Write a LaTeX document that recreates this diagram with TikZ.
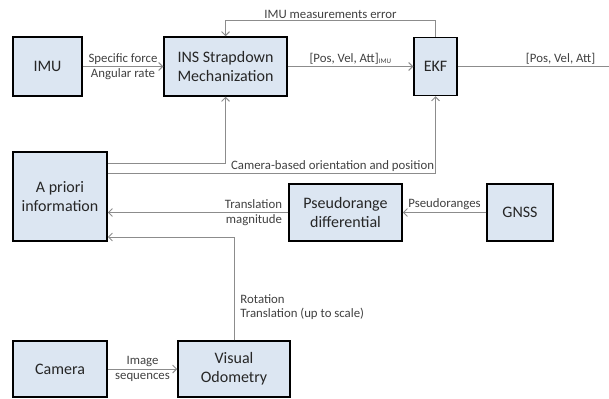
\documentclass[tikz,border=0pt]{standalone}
\usepackage{fontspec}
\setmainfont{Carlito}
\usepackage{tikz}
\usetikzlibrary{arrows.meta,%
                shapes,positioning}
\definecolor{boxfill}{HTML}{DCE6F2}
\definecolor{linegray}{HTML}{8C8C8C}
\definecolor{textgray}{HTML}{404040}

\begin{document}
\begin{tikzpicture}[x=1pt,y=-1pt,
  block/.style={draw=black, line width=1.5pt, fill=boxfill, align=center,
    inner sep=0pt, text=black!85, font=\fontsize{16}{19}\selectfont},
  link/.style={draw=linegray, line width=0.9pt},
  arr/.style={link, -{Straight Barb[length=4pt,width=8pt]}},
  lbl/.style={text=textgray, font=\fontsize{12.8}{14.5}\selectfont, inner sep=2pt}]
\useasboundingbox (0,0) rectangle (609,398);
% blocks
\node[block, minimum width=69pt, minimum height=59pt] (imu) at (47.5,66.5) {IMU};
\node[block, minimum width=123pt, minimum height=59pt] (ins) at (225.5,66.5) {INS Strapdown\\Mechanization};
\node[block, minimum width=43pt, minimum height=58pt] (ekf) at (435.5,66.5) {EKF};
\node[block, minimum width=94pt, minimum height=89pt] (prior) at (60,196.5) {A priori\\information};
\node[block, minimum width=113pt, minimum height=57pt] (pseudo) at (345.5,212.5) {Pseudorange\\differential};
\node[block, minimum width=66pt, minimum height=57pt] (gnss) at (520,212.5) {GNSS};
\node[block, minimum width=94pt, minimum height=56pt] (cam) at (60,369) {Camera};
\node[block, minimum width=112pt, minimum height=56pt] (vo) at (234,369) {Visual\\Odometry};
\coordinate (out) at (609,66.5);
% connectors
\draw[arr] (imu) -- node[lbl, align=center] {Specific force\\Angular rate} (ins);
\draw[arr] (ins) -- node[lbl, above] {[Pos, Vel, Att]\textsubscript{\fontsize{7}{8}\selectfont IMU}} (ekf);
\draw[link] (ekf) -- node[lbl, above, pos=0.68] {[Pos, Vel, Att]} (out);
\draw[arr] (ekf.north) -- ++(0,-16) -| node[lbl, above, pos=0.25] {IMU measurements error} (ins.north);
\draw[arr] ([yshift=33.5pt]prior.east) -| (ins.south);
\draw[arr] ([yshift=23.5pt]prior.east) -| node[lbl, above left, pos=0.5, inner sep=1pt] {Camera-based orientation and position} (ekf.south);
\draw[arr] (gnss) -- node[lbl, above] {Pseudoranges} (pseudo);
\draw[arr] (pseudo) -- (prior.east |- pseudo.west);
\node[lbl, anchor=east, align=right] (trans) at ([xshift=-4pt]pseudo.west) {Translation\\magnitude};
\draw[arr] (vo.north) |- node[lbl, right, align=left, pos=0.16, xshift=4pt] {Rotation\\Translation (up to scale)} ([yshift=-40.5pt]prior.east);
\draw[arr] (cam) -- node[lbl, align=center] {Image\\sequences} (vo);
\end{tikzpicture}
\end{document}
